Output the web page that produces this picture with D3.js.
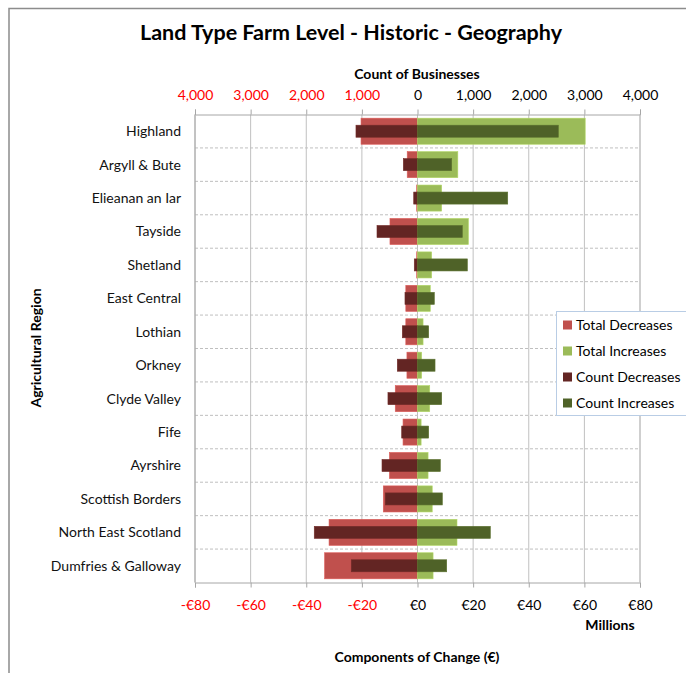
<!DOCTYPE html>
<html><head><meta charset="utf-8">
<script src="https://cdn.jsdelivr.net/npm/d3@7"></script>
<style>body{margin:0;background:#fff}svg{display:block;font-family:Lato,"Open Sans",sans-serif}</style>
</head><body><svg id="c" width="686" height="673"></svg>
<script>
const categories = ["Highland","Argyll & Bute","Elieanan an Iar","Tayside","Shetland","East Central","Lothian","Orkney","Clyde Valley","Fife","Ayrshire","Scottish Borders","North East Scotland","Dumfries & Galloway"];
const totalDecreases = [-20.3,-3.7,-0.3,-9.9,-0.3,-4.2,-4.2,-3.8,-8.0,-5.2,-10.1,-12.3,-31.8,-33.4];
const totalIncreases = [60.3,14.5,8.7,18.3,5.1,4.6,2.0,1.5,4.4,1.3,3.8,5.3,14.2,5.6];
const countDecreases = [-1106,-255,-68,-728,-58,-225,-273,-363,-531,-284,-638,-579,-1856,-1191];
const countIncreases = [2532,615,1622,806,896,302,201,315,435,201,410,446,1309,525];
const euroTicks = [-80,-60,-40,-20,0,20,40,60,80];
const countTicks = [-4000,-3000,-2000,-1000,0,1000,2000,3000,4000];
const seriesNames = ["Total Decreases","Total Increases","Count Decreases","Count Increases"];
const colors = ["#C0504D","#9BBB59","#632523","#4F6228"];

const svg = d3.select("#c");
const L=195, R=640, T=114.5, B=582.5;
const xE = d3.scaleLinear().domain([-80,80]).range([L,R]);
const xC = d3.scaleLinear().domain([-4000,4000]).range([L,R]);
const y = d3.scaleBand().domain(categories).range([T,B]);

// outer frame (top and left edges visible)
svg.append("path").attr("d","M9,673 V8.5 H686").attr("fill","none").attr("stroke","#8C8C8C").attr("stroke-width",1.5);

// title
svg.append("text").attr("x",351).attr("y",40).attr("text-anchor","middle").attr("font-size",21.5).attr("font-weight","bold").attr("fill","#000").text("Land Type Farm Level - Historic - Geography");

// vertical gridlines
svg.append("g").selectAll("line").data(euroTicks).join("line")
  .attr("x1",d=>xE(d)).attr("x2",d=>xE(d)).attr("y1",T).attr("y2",B)
  .attr("stroke","#C0C0C0").attr("stroke-width",1);
// horizontal dashed separators
svg.append("g").selectAll("line").data(categories.slice(1)).join("line")
  .attr("x1",L).attr("x2",R).attr("y1",d=>y(d)).attr("y2",d=>y(d))
  .attr("stroke","#BFBFBF").attr("stroke-dasharray","3,2");

// axes
const topAxis = svg.append("g").attr("transform",`translate(0,${T})`)
  .call(d3.axisTop(xC).tickValues(countTicks).tickSize(5).tickFormat(d=>d3.format(",")(Math.abs(d))));
const botAxis = svg.append("g").attr("transform",`translate(0,${B})`)
  .call(d3.axisBottom(xE).tickValues(euroTicks).tickSize(5).tickFormat(d=>(d<0?"-€":"€")+Math.abs(d)));
[topAxis,botAxis].forEach(a=>{
  a.select(".domain").attr("stroke","#A6A6A6");
  a.selectAll(".tick line").attr("stroke","#A6A6A6");
  a.selectAll(".tick text").attr("font-size",14).attr("font-family","Lato,sans-serif")
    .attr("fill",d=>d<0?"#FF0000":"#000");
});
topAxis.selectAll(".tick text").attr("dy","-0.45em");
botAxis.selectAll(".tick text").attr("dy","1.4em");
// left/right plot lines
svg.append("line").attr("x1",L).attr("x2",L).attr("y1",T).attr("y2",B).attr("stroke","#A6A6A6");
svg.append("line").attr("x1",R).attr("x2",R).attr("y1",T).attr("y2",B).attr("stroke","#BFBFBF");

// bars
const hT = y.bandwidth()*0.78, hC = y.bandwidth()*0.36;
function bars(vals, sc, h, color){
  svg.append("g").selectAll("rect").data(categories).join("rect")
    .attr("x",(d,i)=>Math.min(sc(0),sc(vals[i])))
    .attr("width",(d,i)=>Math.abs(sc(vals[i])-sc(0)))
    .attr("y",d=>y(d)+(y.bandwidth()-h)/2).attr("height",h)
    .attr("fill",color).attr("stroke",d3.color(color).brighter(0.4)).attr("stroke-width",0.6);
}
bars(totalDecreases,xE,hT,colors[0]);
bars(totalIncreases,xE,hT,colors[1]);
bars(countDecreases,xC,hC,colors[2]);
bars(countIncreases,xC,hC,colors[3]);

// category labels
svg.append("g").selectAll("text").data(categories).join("text")
  .attr("x",181).attr("y",d=>y(d)+y.bandwidth()/2).attr("dy","0.35em")
  .attr("text-anchor","end").attr("font-size",14).attr("fill","#111").text(d=>d);

// axis titles
svg.append("text").attr("x",417).attr("y",79).attr("text-anchor","middle").attr("font-size",14).attr("font-weight","bold").text("Count of Businesses");
svg.append("text").attr("x",610).attr("y",630).attr("text-anchor","middle").attr("font-size",14).attr("font-weight","bold").text("Millions");
svg.append("text").attr("x",417).attr("y",662).attr("text-anchor","middle").attr("font-size",14).attr("font-weight","bold").text("Components of Change (€)");
svg.append("text").attr("transform","translate(41,348) rotate(-90)").attr("text-anchor","middle").attr("font-size",14).attr("font-weight","bold").text("Agricultural Region");

// legend
const lg = svg.append("g");
lg.append("rect").attr("x",556.5).attr("y",311.5).attr("width",140).attr("height",104).attr("fill","#fff").attr("stroke","#B9CDE5");
seriesNames.forEach((n,i)=>{
  const cy = 325 + i*26;
  lg.append("rect").attr("x",563).attr("y",cy-4.5).attr("width",9).attr("height",9).attr("fill",colors[i]);
  lg.append("text").attr("x",576).attr("y",cy).attr("dy","0.35em").attr("font-size",14).text(n);
});
</script></body></html>
